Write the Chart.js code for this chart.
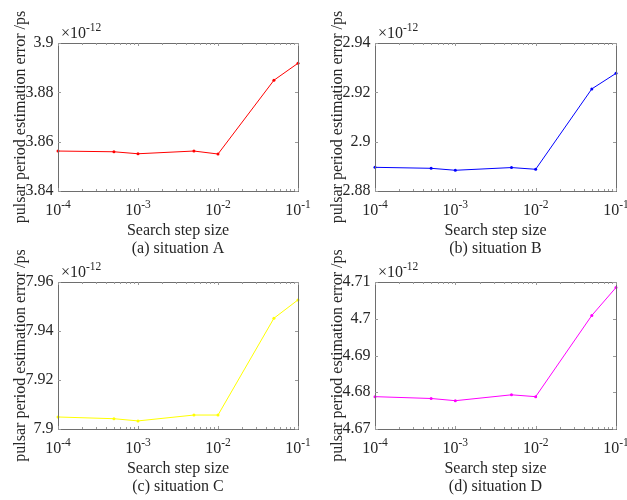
<!DOCTYPE html>
<html>
<head>
<meta charset="utf-8">
<script src="https://cdn.jsdelivr.net/npm/chart.js@4.4.1/dist/chart.umd.min.js"></script>
<style>
  body { margin: 0; background: #fff; }
  #wrap { position: relative; width: 627px; height: 500px; overflow: hidden; }
  canvas { position: absolute; }
</style>
</head>
<body>
<div id="wrap">
  <canvas id="c0" width="313" height="262" style="left:0;top:0"></canvas>
  <canvas id="c1" width="314" height="262" style="left:313px;top:0"></canvas>
  <canvas id="c2" width="313" height="250" style="left:0;top:250px"></canvas>
  <canvas id="c3" width="314" height="250" style="left:313px;top:250px"></canvas>
</div>
<script>
// search step sizes (x) and the estimation error (units of 1e-12 ps)
const stepSizes = [1e-4, 5e-4, 1e-3, 5e-3, 1e-2, 5e-2, 1e-1];
const xTickExponents = [-4, -3, -2, -1];
const errorA = [3.8562, 3.8559, 3.8551, 3.8562, 3.8550, 3.8849, 3.8918];
const errorB = [2.8896, 2.8892, 2.8884, 2.8895, 2.8888, 2.9214, 2.9277];
const errorC = [7.9049, 7.9042, 7.9033, 7.9057, 7.9057, 7.9452, 7.9527];
const errorD = [4.6788, 4.6783, 4.6777, 4.6793, 4.6788, 4.7009, 4.7085];
const captions = ["(a) situation A", "(b) situation B", "(c) situation C", "(d) situation D"];
const yLimits = [[3.84, 3.9, 0.02], [2.88, 2.94, 0.02], [7.9, 7.96, 0.02], [4.67, 4.71, 0.01]];
const xTitle = "Search step size";
const yTitle = "pulsar period estimation error /ps";

const serif = "'Liberation Serif', 'Times New Roman', serif";
const textColor = "#262626";

// plot area of each panel inside its canvas
const panels = [
    { id: "c0", data: errorA, color: "#ff0000", area: { left: 58, top: 43, right: 298, bottom: 191 } },
    { id: "c1", data: errorB, color: "#0000ff", area: { left: 62, top: 43, right: 303, bottom: 191 } },
    { id: "c2", data: errorC, color: "#ffff00", area: { left: 58, top: 32, right: 298, bottom: 179 } },
    { id: "c3", data: errorD, color: "#ff00ff", area: { left: 62, top: 32, right: 303, bottom: 179 } },
];

function drawPow(ctx, base, exp, x, baseline, size, expSize, centered) {
    ctx.font = size + "px " + serif;
    const wb = ctx.measureText(base).width;
    ctx.font = expSize + "px " + serif;
    const we = ctx.measureText(exp).width;
    const x0 = centered ? x - (wb + we) / 2 : x;
    ctx.textAlign = "left";
    ctx.textBaseline = "alphabetic";
    ctx.font = size + "px " + serif;
    ctx.fillText(base, x0, baseline);
    ctx.font = expSize + "px " + serif;
    ctx.fillText(exp, x0 + wb, baseline - size * 0.42);
}

// box, inward ticks, power-of-ten labels, titles and caption
const matlabAxes = {
    id: "matlabAxes",
    afterDraw(chart, args, opts) {
        const { ctx, chartArea: a, scales } = chart;
        const x = scales.x, y = scales.y;
        ctx.save();
        ctx.strokeStyle = "#6e6e6e";
        ctx.lineWidth = 1;
        ctx.strokeRect(Math.round(a.left) + 0.5, Math.round(a.top) + 0.5,
            Math.round(a.right - a.left), Math.round(a.bottom - a.top));

        ctx.strokeStyle = "#9a9a9a";
        ctx.beginPath();
        xTickExponents.forEach((e, i) => {
            for (let m = 1; m <= 9; m++) {
                if (m > 1 && i === xTickExponents.length - 1) break;
                const px = Math.round(x.getPixelForValue(m * Math.pow(10, e))) + 0.5;
                const len = m === 1 ? 3 : 2;
                ctx.moveTo(px, a.bottom); ctx.lineTo(px, a.bottom - len);
                ctx.moveTo(px, a.top); ctx.lineTo(px, a.top + len);
            }
        });
        y.ticks.forEach((t) => {
            const py = Math.round(y.getPixelForValue(t.value)) + 0.5;
            ctx.moveTo(a.left, py); ctx.lineTo(a.left + 3, py);
            ctx.moveTo(a.right, py); ctx.lineTo(a.right - 3, py);
        });
        ctx.stroke();

        ctx.fillStyle = textColor;
        xTickExponents.forEach((e) => {
            const px = x.getPixelForValue(Math.pow(10, e));
            drawPow(ctx, "10", String(e), px, a.bottom + 23.5, 16, 11.5, true);
        });
        drawPow(ctx, "\u00d710", "-12", a.left + 3, a.top - 5, 16, 11.5, false);

        ctx.font = "16px " + serif;
        ctx.textAlign = "center";
        ctx.fillText(xTitle, (a.left + a.right) / 2, a.bottom + 43.5);
        ctx.fillText(opts.caption, (a.left + a.right) / 2, a.bottom + 62);

        ctx.translate(a.left - 33.5, (a.top + a.bottom) / 2);
        ctx.rotate(-Math.PI / 2);
        ctx.fillText(yTitle, 0, 0);
        ctx.restore();
    },
};

panels.forEach((p, i) => {
    const canvas = document.getElementById(p.id);
    const W = canvas.width, H = canvas.height;
    const [ymin, ymax, ystep] = yLimits[i];
    new Chart(canvas.getContext("2d"), {
        type: "line",
        data: {
            datasets: [
                {
                    data: stepSizes.map((s, k) => ({ x: s, y: p.data[k] })),
                    borderColor: p.color,
                    backgroundColor: p.color,
                    borderWidth: 1,
                    pointRadius: 1.5,
                    pointBorderWidth: 0,
                    tension: 0,
                    clip: 4,
                },
            ],
        },
        options: {
            responsive: false,
            animation: false,
            devicePixelRatio: 1,
            layout: {
                padding: { left: 0, top: p.area.top, right: W - p.area.right, bottom: 0 },
            },
            plugins: {
                legend: { display: false },
                tooltip: { enabled: false },
                matlabAxes: { caption: captions[i] },
            },
            scales: {
                x: {
                    type: "logarithmic",
                    min: 1e-4,
                    max: 1e-1,
                    grid: { display: false, drawTicks: false },
                    border: { display: false },
                    ticks: { display: false },
                    afterFit: (s) => { s.height = H - p.area.bottom; },
                },
                y: {
                    min: ymin,
                    max: ymax,
                    grid: { display: false, drawTicks: false },
                    border: { display: false },
                    ticks: {
                        stepSize: ystep,
                        padding: 4.5,
                        color: textColor,
                        font: { family: serif, size: 16 },
                        callback: (v) => String(+v.toFixed(2)),
                    },
                    afterFit: (s) => { s.width = p.area.left; },
                },
            },
        },
        plugins: [matlabAxes],
    });
});
</script>
</body>
</html>
